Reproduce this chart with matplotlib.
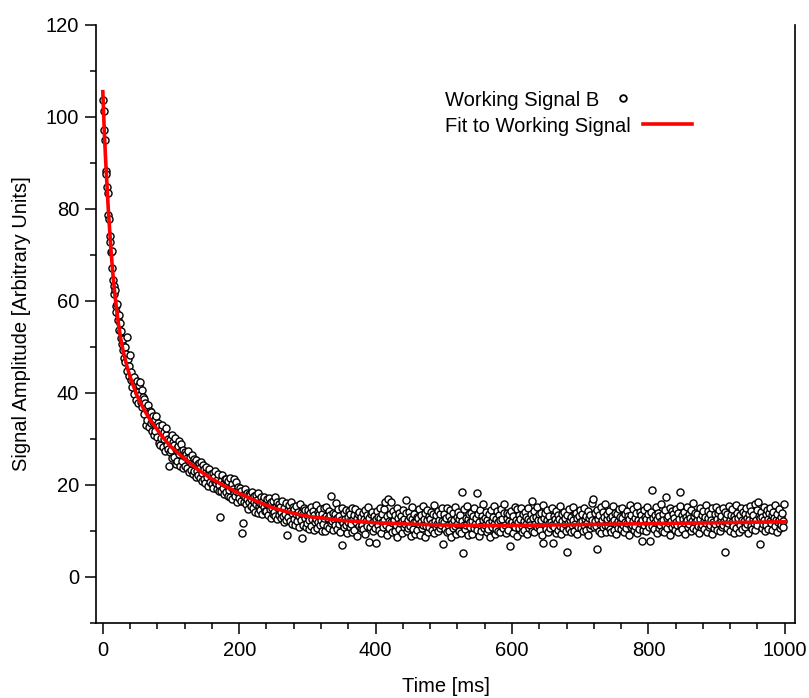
import numpy as np
import matplotlib
matplotlib.use('Agg')
import matplotlib.pyplot as plt
from matplotlib.lines import Line2D
from matplotlib.ticker import MultipleLocator

plt.rcParams['font.family'] = ['Liberation Sans', 'DejaVu Sans']

# Working Signal B, one sample per ms (t = 0 .. 999)
signal = [
    103.8, 101.4, 97.2, 95.1, 88.3, 87.6, 84.7, 83.4, 78.6, 77.8, 74.1, 72.9, 70.6, 70.9, 67.1, 64.6, 63.2, 61.5, 62.3, 58.9,
    57.6, 59.4, 55.8, 56.9, 53.7, 55.2, 51.9, 53.4, 50.6, 49.3, 51.8, 47.6, 49.9, 46.8, 48.5, 52.1, 44.7, 47.3, 43.6, 45.8,
    48.2, 42.9, 44.6, 41.3, 42.8, 39.7, 43.5, 42.1, 38.4, 41.9, 42.6, 40.3, 37.8, 41.7, 39.5, 42.4, 38.1, 40.6, 36.9, 39.2,
    38.7, 35.4, 37.9, 33.1, 36.8, 34.2, 37.5, 35.9, 32.6, 36.1, 33.4, 35.8, 31.7, 34.9, 33.8, 30.9, 34.3, 31.8, 35.1, 33.0,
    30.4, 33.5, 29.1, 32.8, 28.7, 31.9, 30.2, 33.1, 28.3, 29.9, 31.6, 27.4, 30.8, 32.3, 28.6, 30.1, 27.9, 24.2, 29.8, 27.1,
    27.6, 30.9, 25.8, 29.4, 26.1, 28.8, 30.2, 24.6, 27.9, 25.3, 28.5, 26.7, 29.6, 24.1, 27.3, 28.9, 25.2, 23.8, 27.6, 26.4,
    27.2, 24.1, 26.8, 23.6, 25.9, 27.4, 22.8, 25.3, 26.1, 23.2, 24.8, 26.6, 22.5, 25.7, 23.1, 24.9, 21.8, 25.4, 23.0, 24.6,
    22.1, 24.7, 21.5, 23.8, 25.1, 20.9, 22.6, 24.3, 21.2, 23.5, 20.4, 22.8, 24.0, 21.7, 19.8, 22.9, 23.4, 20.6, 21.9, 22.5,
    20.2, 22.7, 19.4, 21.8, 20.6, 23.1, 20.5, 21.0, 19.2, 22.4, 20.1, 18.7, 13.1, 18.6, 20.9, 22.2, 19.3, 20.4, 18.1, 21.3,
    18.4, 21.2, 19.9, 17.6, 20.8, 18.9, 21.6, 17.3, 19.5, 20.3, 16.9, 19.1, 21.4, 18.2, 17.7, 20.6, 18.8, 16.4, 19.6, 18.0,
    17.1, 19.4, 16.6, 18.8, 9.5, 17.9, 11.7, 16.2, 19.1, 17.4, 15.8, 18.3, 16.9, 14.7, 18.1, 16.3, 17.8, 15.4, 16.9, 18.5,
    15.1, 17.6, 16.3, 14.2, 17.9, 15.8, 16.7, 13.9, 18.2, 15.4, 16.1, 14.6, 17.3, 15.9, 13.8, 16.8, 15.2, 17.5, 14.4, 16.0,
    14.3, 16.9, 13.5, 15.7, 17.2, 14.8, 12.9, 16.4, 15.1, 13.7, 16.6, 14.2, 17.4, 13.3, 15.5, 16.2, 12.6, 14.9, 15.8, 13.4,
    15.3, 12.8, 14.1, 16.5, 13.2, 11.9, 15.0, 13.7, 16.1, 12.4, 9.2, 14.6, 13.0, 15.7, 12.2, 14.4, 16.3, 11.6, 13.9, 15.2,
    12.7, 14.8, 11.4, 13.6, 15.4, 12.1, 14.2, 10.8, 13.3, 15.9, 12.5, 14.0, 8.4, 13.8, 11.2, 15.1, 12.9, 14.5, 10.9, 13.5,
    11.8, 14.6, 12.3, 10.5, 13.9, 15.2, 11.1, 12.7, 14.3, 10.2, 13.4, 11.9, 15.6, 12.6, 10.7, 14.1, 12.0, 13.7, 11.3, 14.8,
    12.4, 10.1, 13.6, 11.5, 14.9, 12.8, 9.9, 13.2, 15.3, 11.0, 12.9, 14.4, 10.6, 13.5, 11.7, 17.6, 12.2, 10.3, 14.0, 12.6,
    13.8, 11.2, 16.1, 12.9, 10.4, 14.7, 11.6, 13.3, 9.8, 12.5, 15.0, 6.9, 11.8, 13.9, 10.9, 12.7, 14.5, 11.4, 9.6, 13.1,
    12.0, 14.3, 10.8, 13.7, 11.5, 15.1, 9.7, 12.6, 13.4, 10.2, 14.8, 11.9, 12.8, 8.9, 13.6, 11.1, 14.2, 12.3, 10.6, 13.0,
    11.4, 13.9, 10.5, 12.7, 14.6, 9.3, 12.2, 13.5, 11.0, 15.2, 7.6, 12.9, 10.8, 13.8, 11.7, 14.1, 9.9, 12.4, 13.2, 10.7,
    7.4, 12.6, 14.4, 11.2, 13.1, 10.3, 12.8, 15.0, 9.6, 11.9, 13.6, 10.9, 12.3, 14.7, 16.4, 11.4, 9.2, 13.3, 16.9, 12.1,
    10.6, 13.8, 12.0, 16.2, 9.8, 11.7, 14.3, 12.5, 10.1, 13.4, 11.3, 15.1, 8.7, 12.8, 10.4, 14.0, 11.8, 13.2, 9.5, 12.2,
    14.6, 10.9, 12.7, 11.5, 13.9, 16.8, 9.9, 12.4, 10.7, 14.2, 11.1, 13.0, 8.9, 12.6, 15.3, 10.5, 11.9, 13.7, 9.4, 12.1,
    13.1, 10.2, 12.9, 14.8, 11.6, 9.1, 13.5, 12.0, 10.6, 15.4, 11.3, 12.7, 8.6, 13.9, 11.0, 14.5, 12.4, 9.8, 13.2, 10.9,
    12.6, 14.1, 10.3, 11.8, 13.7, 9.5, 15.6, 12.2, 10.8, 13.4, 11.5, 14.3, 9.9, 12.5, 10.7, 13.8, 11.2, 14.9, 12.1, 7.2,
    11.9, 13.6, 10.4, 12.8, 15.0, 9.7, 11.4, 13.3, 10.1, 14.6, 12.3, 8.8, 11.7, 13.9, 10.6, 12.5, 15.3, 11.0, 9.3, 13.1,
    11.6, 14.2, 10.0, 12.7, 13.5, 9.6, 18.5, 12.1, 5.3, 11.3, 14.7, 10.5, 12.9, 11.4, 15.5, 9.2, 12.6, 13.8, 10.8, 11.9,
    14.0, 12.2, 9.4, 13.3, 10.7, 15.1, 11.5, 12.8, 18.2, 10.2, 13.6, 8.9, 12.0, 14.5, 11.1, 9.9, 13.2, 12.4, 15.8, 10.6,
    12.9, 11.3, 14.1, 9.7, 12.5, 10.4, 13.7, 11.8, 8.7, 14.6, 12.2, 10.9, 13.0, 15.4, 11.6, 9.3, 12.7, 10.5, 14.3, 11.9,
    10.1, 13.5, 12.3, 9.8, 14.8, 11.0, 12.6, 10.7, 13.9, 15.9, 11.4, 9.5, 12.8, 14.0, 10.3, 12.1, 13.6, 6.7, 11.7, 14.4,
    12.0, 9.6, 13.2, 11.3, 15.2, 10.8, 12.4, 14.7, 9.0, 11.9, 13.4, 10.6, 12.7, 15.0, 11.1, 9.8, 13.8, 12.2, 10.3, 14.2,
    11.5, 13.0, 9.4, 12.6, 14.9, 10.7, 12.1, 11.3, 13.7, 16.5, 10.0, 12.8, 14.3, 9.7, 11.6, 13.1, 10.9, 15.3, 12.4, 11.0,
    13.6, 10.2, 12.5, 14.0, 9.1, 15.7, 7.4, 12.9, 11.2, 13.9, 10.5, 12.3, 14.6, 9.8, 11.8, 13.3, 10.6, 12.0, 15.1, 11.4,
    7.4, 13.2, 10.9, 12.7, 14.4, 9.6, 11.9, 13.5, 10.3, 12.6, 15.4, 11.1, 9.3, 13.8, 12.2, 10.7, 14.1, 11.6, 12.9, 10.0,
    13.4, 5.5, 11.7, 14.7, 10.4, 12.3, 9.7, 13.0, 11.2, 15.2, 12.5, 10.1, 13.6, 11.5, 14.0, 9.4, 12.8, 10.8, 13.3, 11.9,
    14.5, 10.6, 12.1, 13.7, 9.9, 11.4, 15.0, 12.6, 10.3, 13.2, 11.8, 14.3, 9.2, 12.9, 10.7, 13.5, 11.3, 16.1, 12.4, 17.0,
    10.8, 13.9, 12.2, 11.0, 6.1, 14.6, 12.7, 10.1, 13.4, 11.6, 15.3, 9.5, 12.3, 14.1, 10.9, 13.0, 11.4, 15.8, 9.8, 12.6,
    13.7, 11.1, 14.4, 10.5, 12.8, 9.7, 13.3, 11.9, 15.5, 10.2, 12.4, 14.0, 11.5, 9.3, 13.6, 12.1, 10.7, 14.8, 11.8, 13.1,
    10.4, 12.9, 15.1, 11.3, 9.8, 13.8, 12.0, 10.6, 14.3, 11.7, 13.2, 9.1, 12.6, 15.6, 10.9, 13.5, 11.4, 12.2, 14.7, 10.3,
    12.8, 11.0, 13.9, 9.6, 15.4, 12.3, 10.5, 14.1, 11.8, 13.4, 7.8, 12.5, 10.2, 14.6, 11.3, 13.0, 9.9, 12.7, 15.2, 11.6,
    13.7, 10.8, 12.4, 7.9, 14.2, 11.1, 18.9, 12.9, 10.4, 13.5, 11.9, 15.3, 9.5, 12.6, 14.0, 10.7, 13.2, 11.4, 15.9, 12.1,
    10.1, 13.8, 12.5, 9.7, 14.5, 11.2, 17.3, 12.8, 10.6, 13.3, 11.7, 15.0, 9.2, 12.2, 14.3, 10.9, 13.6, 11.5, 12.9, 10.3,
    14.7, 12.0, 11.3, 13.9, 9.8, 12.7, 15.5, 18.4, 11.0, 13.4, 10.5, 12.6, 14.1, 11.8, 9.4, 13.1, 12.3, 15.2, 10.8, 13.7,
    11.5, 12.9, 9.9, 14.6, 12.2, 16.0, 10.7, 13.3, 11.9, 14.0, 10.2, 12.5, 13.8, 11.1, 9.6, 15.1, 12.7, 10.9, 13.5, 11.4,
    14.3, 12.1, 10.4, 13.0, 11.7, 15.6, 9.7, 12.8, 14.4, 10.8, 13.6, 11.2, 12.4, 9.3, 14.9, 12.0, 10.6, 13.7, 11.5, 15.3,
    12.6, 10.3, 13.9, 11.8, 14.5, 9.9, 12.7, 13.3, 10.9, 15.0, 11.4, 12.2, 14.1, 5.5, 12.9, 10.6, 13.6, 11.7, 15.4, 12.3,
    10.1, 13.5, 12.0, 14.8, 11.1, 9.5, 13.2, 12.6, 15.7, 10.7, 14.0, 11.9, 12.8, 9.8, 13.4, 11.3, 15.1, 12.4, 10.5, 14.2,
    12.1, 13.7, 10.9, 14.9, 11.6, 12.9, 9.6, 13.8, 12.3, 15.5, 11.0, 14.3, 10.4, 12.7, 13.5, 11.8, 15.8, 10.2, 12.5, 14.6,
    11.3, 16.4, 13.2, 7.1, 12.8, 14.1, 10.7, 13.0, 11.5, 15.3, 12.4, 9.9, 13.7, 11.2, 14.5, 12.6, 10.5, 13.9, 12.1, 15.0,
    11.7, 13.4, 10.3, 14.2, 12.9, 11.1, 15.6, 12.3, 9.8, 13.6, 11.9, 14.8, 12.5, 10.6, 13.1, 11.4, 14.0, 12.2, 10.8, 15.8,
]
time_ms = np.arange(len(signal))

# Fit to the working signal
fit_time = [0, 2, 4, 6, 8, 10, 12, 15, 18, 22, 26, 30, 35, 40, 50, 60, 70, 80, 90, 100,
            120, 140, 160, 180, 200, 225, 250, 275, 300, 350, 400, 450, 500, 550, 600,
            650, 700, 750, 800, 850, 900, 950, 1000]
fit_value = [105.5, 97.5, 91.0, 85.5, 80.0, 75.5, 71.0, 65.5, 61.0, 56.0, 52.0, 49.0, 46.0, 43.5,
             39.5, 36.5, 34.0, 32.0, 30.0, 28.3, 25.7, 23.3, 21.3, 19.7, 18.2, 16.5, 15.0, 14.0,
             13.2, 12.3, 11.8, 11.5, 11.3, 11.2, 11.2, 11.3, 11.4, 11.5, 11.6, 11.7, 11.8, 11.9, 12.0]

x_label = "Time [ms]"
y_label = "Signal Amplitude [Arbitrary Units]"
series_labels = ["Working Signal B", "Fit to Working Signal"]

W, H = 809, 698
fig = plt.figure(figsize=(W / 100, H / 100), dpi=100)
L, R, T, B = 96, 795, 25, 623
ax = fig.add_axes([L / W, 1 - B / H, (R - L) / W, (B - T) / H])

ax.plot(time_ms, signal, linestyle='none', marker='o', ms=5.1,
        mfc='white', mec='black', mew=1.0, zorder=2)
ax.plot(fit_time, fit_value, color='#ff0000', lw=2.6, zorder=3)

ax.set_xlim(-10, 1015)
ax.set_ylim(-10, 120)
ax.xaxis.set_major_locator(MultipleLocator(200))
ax.xaxis.set_minor_locator(MultipleLocator(40))
ax.yaxis.set_major_locator(MultipleLocator(20))
ax.yaxis.set_minor_locator(MultipleLocator(10))

ax.spines['top'].set_visible(False)
for s in ['left', 'bottom', 'right']:
    ax.spines[s].set_linewidth(1.2)
ax.tick_params(which='major', direction='out', length=8, width=1.1,
               labelsize=14.5, top=False, right=False)
ax.tick_params(which='minor', direction='out', length=4.5, width=1.1,
               top=False, right=False)
ax.tick_params(axis='x', which='major', pad=5)
ax.tick_params(axis='y', which='major', pad=4)

ax.set_xlabel(x_label, fontsize=14.5, labelpad=12)
ax.set_ylabel(y_label, fontsize=14.5, labelpad=11)

h1 = Line2D([], [], linestyle='none', marker='o', ms=4.8, mfc='white', mec='black', mew=1.3)
h2 = Line2D([], [], color='#ff0000', lw=2.6)
xa = (445 - L) / (R - L)
leg1 = ax.legend([h1], [series_labels[0]], loc='center left',
                 bbox_to_anchor=(xa, (B - 100) / (B - T)), markerfirst=False,
                 frameon=False, fontsize=14.5, borderpad=0, borderaxespad=0,
                 handlelength=1.2, handletextpad=0.6)
ax.add_artist(leg1)
ax.legend([h2], [series_labels[1]], loc='center left',
          bbox_to_anchor=(xa, (B - 126) / (B - T)), markerfirst=False,
          frameon=False, fontsize=14.5, borderpad=0, borderaxespad=0,
          handlelength=2.45, handletextpad=0.6)

fig.savefig('out.png', dpi=100)
